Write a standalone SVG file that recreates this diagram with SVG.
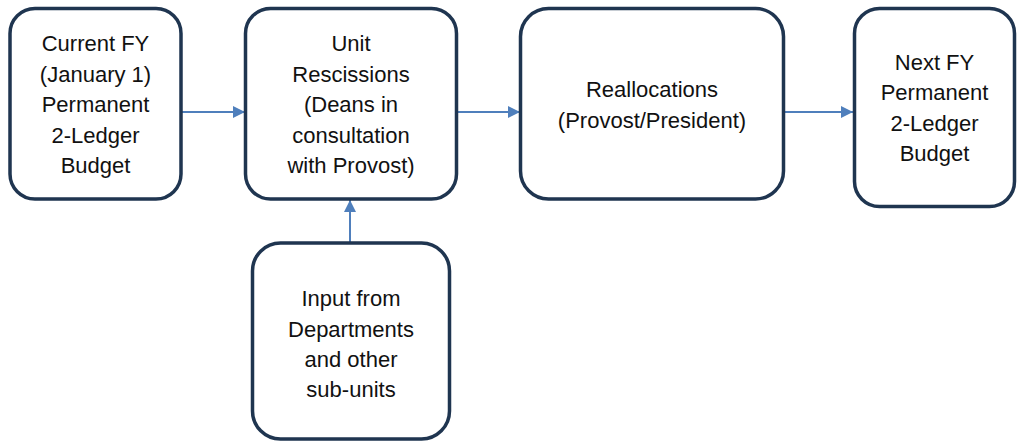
<svg xmlns="http://www.w3.org/2000/svg" width="1017" height="443" viewBox="0 0 1017 443">
<style>
.box{fill:#fff;stroke:#1f3550;stroke-width:3.5}
.t{font-family:"Liberation Sans",Arial,sans-serif;font-size:22px;fill:#111;text-anchor:middle}
.c{stroke:#4f7fbc;stroke-width:2;fill:none}
</style>
<defs>
<marker id="ah" markerWidth="12" markerHeight="12" refX="10" refY="5" orient="auto" markerUnits="userSpaceOnUse" viewBox="0 0 10 10">
<path d="M0,0 L10,5 L0,10 Z" fill="#4f7fbc"/>
</marker>
</defs>
<rect width="1017" height="443" fill="#fff"/>
<g id="connectors">
<line class="c" x1="182" y1="112" x2="245" y2="112" marker-end="url(#ah)"/>
<line class="c" x1="457" y1="112" x2="520" y2="112" marker-end="url(#ah)"/>
<line class="c" x1="784" y1="112" x2="853" y2="112" marker-end="url(#ah)"/>
<line class="c" x1="350" y1="242" x2="350" y2="200" marker-end="url(#ah)"/>
</g>
<g id="current">
<rect class="box" x="10" y="8.5" width="171" height="190.5" rx="25"/>
<text class="t" x="95.5" y="51">Current FY</text>
<text class="t" x="95.5" y="81.5">(January 1)</text>
<text class="t" x="95.5" y="112">Permanent</text>
<text class="t" x="95.5" y="142.5">2-Ledger</text>
<text class="t" x="95.5" y="173">Budget</text>
</g>
<g id="rescissions">
<rect class="box" x="245.5" y="8.5" width="211" height="190.5" rx="25"/>
<text class="t" x="351" y="51">Unit</text>
<text class="t" x="351" y="81.5">Rescissions</text>
<text class="t" x="351" y="112">(Deans in</text>
<text class="t" x="351" y="142.5">consultation</text>
<text class="t" x="351" y="173">with Provost)</text>
</g>
<g id="reallocations">
<rect class="box" x="520.5" y="8.5" width="263" height="190.5" rx="28"/>
<text class="t" x="652" y="97">Reallocations</text>
<text class="t" x="652" y="127.5">(Provost/President)</text>
</g>
<g id="next">
<rect class="box" x="854.5" y="8.5" width="160" height="198" rx="25"/>
<text class="t" x="934.5" y="69.5">Next FY</text>
<text class="t" x="934.5" y="100">Permanent</text>
<text class="t" x="934.5" y="130.5">2-Ledger</text>
<text class="t" x="934.5" y="161">Budget</text>
</g>
<g id="input">
<rect class="box" x="252.5" y="243" width="197" height="196" rx="28"/>
<text class="t" x="351" y="306">Input from</text>
<text class="t" x="351" y="336.5">Departments</text>
<text class="t" x="351" y="367">and other</text>
<text class="t" x="351" y="397">sub-units</text>
</g>
</svg>
